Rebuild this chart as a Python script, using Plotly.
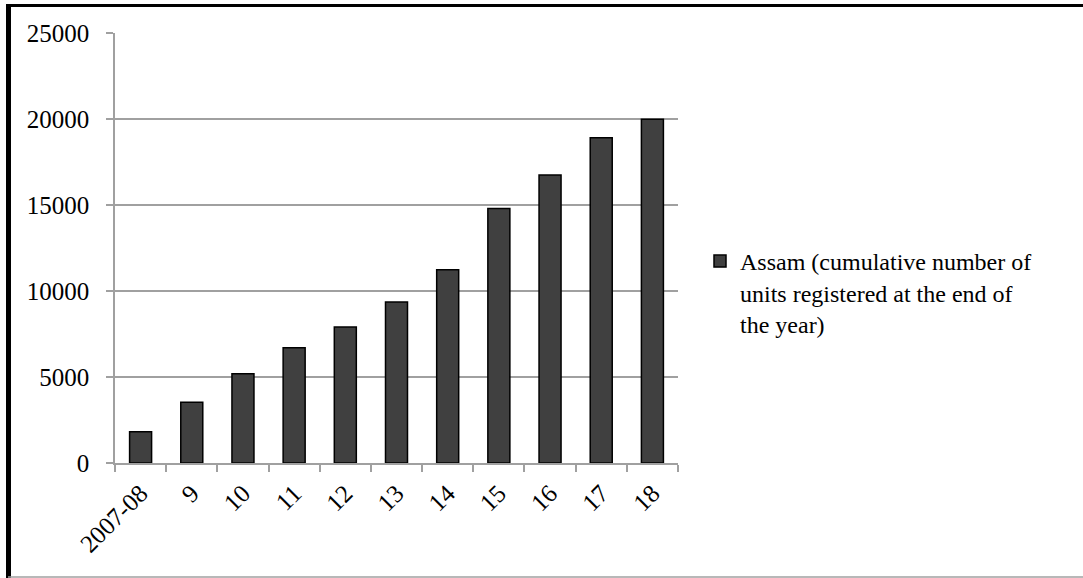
import plotly.graph_objects as go

# Year labels and cumulative registered units (Assam)
years = ["2007-08", "9", "10", "11", "12", "13", "14", "15", "16", "17", "18"]
units = [1820, 3530, 5190, 6700, 7900, 9360, 11240, 14800, 16740, 18910, 19980]
series_name = "Assam (cumulative number of<br>units registered at the end of<br>the year)"
y_ticks = [0, 5000, 10000, 15000, 20000, 25000]

W, H = 1083, 578
L, R, T, B = 115, 405, 33, 115
pw, ph = W - L - R, H - T - B

def px(x):
    return (x - L) / pw

def py(y):
    return (H - B - y) / ph

fig = go.Figure()
fig.add_trace(go.Bar(
    x=years, y=units, name=series_name,
    marker=dict(color="#404040", line=dict(color="#000000", width=1.5)),
    showlegend=True,
))

grid = "#a0a0a0"
font = "Liberation Serif, Times New Roman, serif"

fig.update_layout(
    width=W, height=H,
    margin=dict(l=L, r=R, t=T, b=B),
    paper_bgcolor="white", plot_bgcolor="white",
    bargap=0.57,
    font=dict(family=font, size=25, color="#000000"),
    showlegend=True,
    legend=dict(
        x=px(700), y=py(239), xanchor="left", yanchor="top",
        font=dict(family=font, size=24, color="#000000"),
        itemwidth=30, tracegroupgap=0, valign="top",
        bgcolor="rgba(0,0,0,0)",
    ),
    xaxis=dict(
        type="category", tickangle=-45, tickson="boundaries",
        ticks="outside", ticklen=7, tickcolor=grid, tickwidth=1.5,
        showline=True, linecolor=grid, linewidth=1.5,
        showgrid=False, zeroline=False,
        tickfont=dict(family=font, size=25),
        ticklabelstandoff=4,
    ),
    yaxis=dict(
        range=[0, 25000], tickvals=y_ticks,
        ticktext=[str(v) for v in y_ticks],
        ticks="outside", ticklen=7, tickcolor=grid, tickwidth=1.5,
        showline=True, linecolor=grid, linewidth=1.5,
        showgrid=True, gridcolor=grid, gridwidth=1.5,
        zeroline=False,
        tickfont=dict(family=font, size=25),
        ticklabelstandoff=12,
    ),
)

# Outer frame of the chart area
fig.add_shape(type="line", xref="paper", yref="paper",
              x0=px(8.5), x1=px(8.5), y0=py(4), y1=py(578),
              line=dict(color="#000000", width=5))
fig.add_shape(type="line", xref="paper", yref="paper",
              x0=px(6), x1=px(1083), y0=py(5.5), y1=py(5.5),
              line=dict(color="#000000", width=3))
fig.add_shape(type="line", xref="paper", yref="paper",
              x0=px(8), x1=px(1083), y0=py(577), y1=py(577),
              line=dict(color=grid, width=1.5))

fig.write_html("out.html")
